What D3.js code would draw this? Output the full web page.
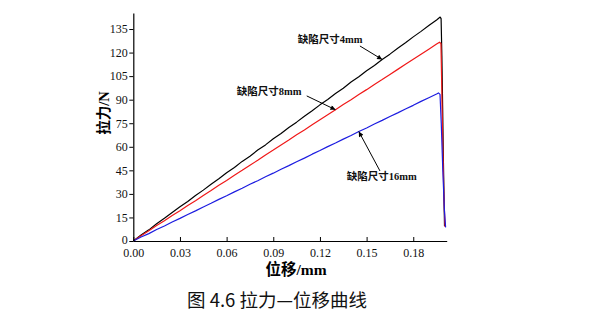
<!DOCTYPE html>
<html>
<head>
<meta charset="utf-8">
<script src="https://cdn.jsdelivr.net/npm/d3@7"></script>
<style>
  html, body { margin: 0; padding: 0; background: #fff; }
  svg { display: block; }
</style>
</head>
<body>
<svg id="chart" width="600" height="330"></svg>
<script>
// Displacement (mm) and load (N) for three defect sizes
const blackX = [0,0.005,0.01,0.015,0.02,0.025,0.03,0.035,0.04,0.045,0.05,0.055,0.06,0.065,0.07,0.075,0.08,0.085,0.09,0.095,0.10,0.105,0.11,0.115,0.12,0.125,0.13,0.135,0.14,0.145,0.15,0.155,0.16,0.165,0.17,0.175,0.18,0.185,0.19,0.195,0.1973,0.1979,0.1984,0.1989,0.1994,0.2001];
const blackY = [0,3.8,7.1,11.0,14.5,18.2,21.8,25.1,29.0,32.4,36.2,39.6,43.4,46.8,50.7,54.0,57.9,61.2,65.1,68.5,72.3,75.7,79.5,83.0,86.7,90.1,93.9,97.3,101.2,104.6,108.4,111.8,115.6,119.0,122.8,126.2,130.0,133.5,137.2,140.8,142.6,141.6,118,85,50,9.5];

const redX = [0,0.005,0.01,0.015,0.02,0.025,0.03,0.035,0.04,0.045,0.05,0.055,0.06,0.065,0.07,0.075,0.08,0.085,0.09,0.095,0.10,0.105,0.11,0.115,0.12,0.125,0.13,0.135,0.14,0.145,0.15,0.155,0.16,0.165,0.17,0.175,0.18,0.185,0.19,0.195,0.1969,0.1978,0.1982,0.1988,0.1996,0.2004];
const redY = [0,3.4,6.5,9.8,12.9,16.2,19.3,22.6,25.7,29.0,32.1,35.5,38.6,41.9,45.0,48.3,51.4,54.8,57.9,61.2,64.3,67.6,70.7,74.0,77.2,80.4,83.6,86.9,90.0,93.3,96.4,99.7,102.8,106.1,109.3,112.5,115.7,118.9,122.1,125.4,126.6,125.8,105,70,32,9];

const blueX = [0,0.005,0.01,0.015,0.02,0.025,0.03,0.035,0.04,0.045,0.05,0.055,0.06,0.065,0.07,0.075,0.08,0.085,0.09,0.095,0.10,0.105,0.11,0.115,0.12,0.125,0.13,0.135,0.14,0.145,0.15,0.155,0.16,0.165,0.17,0.175,0.18,0.185,0.19,0.195,0.1962,0.1972,0.1980,0.1990,0.2000,0.2008];
const blueY = [0,2.5,4.7,7.3,9.6,12.1,14.4,16.9,19.2,21.7,24.0,26.5,28.8,31.3,33.6,36.1,38.4,40.9,43.2,45.7,48.0,50.5,52.8,55.3,57.6,60.1,62.4,64.9,67.2,69.7,72.0,74.5,76.8,79.3,81.6,84.1,86.4,88.9,91.2,93.6,94.3,93.4,75,45,20,8.7];

const seriesNames = ["缺陷尺寸4mm", "缺陷尺寸8mm", "缺陷尺寸16mm"];
const xTicks = [0, 0.03, 0.06, 0.09, 0.12, 0.15, 0.18];
const yTicks = [0, 15, 30, 45, 60, 75, 90, 105, 120, 135];
const xTitle = "位移/mm";
const yTitle = "拉力/N";
const caption = "图 4.6 拉力—位移曲线";

// label anchor (data units), arrow tail (data units), arrow tip = point on curve
const labelX = [0.1058, 0.0665, 0.1372];
const labelY = [126.1, 93.0, 38.9];
const tailX = [0.1457, 0.1115, 0.1586];
const tailY = [124.2, 92.4, 44.6];
const tipAt = [0.16, 0.13, 0.145];

const series = [
  { name: seriesNames[0], xs: blackX, ys: blackY, color: "#000000" },
  { name: seriesNames[1], xs: redX, ys: redY, color: "#f01818" },
  { name: seriesNames[2], xs: blueX, ys: blueY, color: "#1c1ce0" }
];

const svg = d3.select("#chart");
const plotLeft = 133.3, plotRight = 446.7, plotTop = 13, plotBottom = 241;

const x = d3.scaleLinear().domain([0, 0.2015]).range([plotLeft, plotRight]);
const y = d3.scaleLinear().domain([0, 145.2]).range([plotBottom, plotTop]);

const serif = "'Liberation Serif', 'Times New Roman', 'Noto Sans CJK SC', serif";

svg.append("defs").append("marker")
  .attr("id", "arrow")
  .attr("viewBox", "0 0 10 10")
  .attr("refX", 10).attr("refY", 5)
  .attr("markerWidth", 7).attr("markerHeight", 5)
  .attr("markerUnits", "userSpaceOnUse")
  .attr("orient", "auto")
  .append("path").attr("d", "M0,0L10,5L0,10Z").attr("fill", "#000");

// curves
const line = d3.line().x(d => x(d[0])).y(d => y(d[1]));
series.forEach(s => {
  const pts = s.xs.map((v, i) => [v, s.ys[i]]);
  svg.append("path")
    .attr("d", line(pts))
    .attr("fill", "none")
    .attr("stroke", s.color)
    .attr("stroke-width", 1.2)
    .attr("stroke-linejoin", "round");
});

// axes: x ticks point inward, y ticks point outward
const xAxis = d3.axisBottom(x).tickValues(xTicks).tickFormat(d3.format(".2f")).tickSizeInner(-4).tickSizeOuter(0).tickPadding(7.5);
const yAxis = d3.axisLeft(y).tickValues(yTicks).tickFormat(d3.format("d")).tickSizeInner(4).tickSizeOuter(0).tickPadding(1.5);

const gx = svg.append("g").attr("transform", `translate(0,${plotBottom})`).call(xAxis);
const gy = svg.append("g").attr("transform", `translate(${plotLeft},0)`).call(yAxis);
[gx, gy].forEach(g => {
  g.select(".domain").attr("stroke", "#000").attr("stroke-width", 1.2);
  g.selectAll(".tick line").attr("stroke", "#000").attr("stroke-width", 1);
  g.selectAll(".tick text").attr("fill", "#111").style("font-family", serif).style("font-size", "12px");
});
// the origin label of the y axis sits a touch higher so it clears "0.00"
gy.selectAll(".tick text").filter(d => d === 0).attr("dy", "0.2em");

// axis titles
svg.append("text")
  .attr("x", 296).attr("y", 275)
  .attr("text-anchor", "middle")
  .style("font-family", serif).style("font-size", "15.5px").style("font-weight", "bold")
  .text(xTitle);

svg.append("text")
  .attr("transform", "translate(109,113) rotate(-90)")
  .attr("text-anchor", "middle")
  .style("font-family", serif).style("font-size", "14.5px").style("font-weight", "bold")
  .text(yTitle);

// annotations with arrows
series.forEach((s, i) => {
  const k = s.xs.indexOf(tipAt[i]);
  svg.append("line")
    .attr("x1", x(tailX[i])).attr("y1", y(tailY[i]))
    .attr("x2", x(s.xs[k])).attr("y2", y(s.ys[k]))
    .attr("stroke", "#000").attr("stroke-width", 1)
    .attr("marker-end", "url(#arrow)");
  svg.append("text")
    .attr("x", x(labelX[i])).attr("y", y(labelY[i]))
    .style("font-family", serif).style("font-size", "10.5px").style("font-weight", "bold")
    .attr("fill", "#111")
    .text(s.name);
});

// caption
svg.append("text")
  .attr("x", 277).attr("y", 307)
  .attr("text-anchor", "middle")
  .style("font-family", "'Noto Sans CJK SC', sans-serif").style("font-size", "18.5px")
  .attr("fill", "#111")
  .text(caption);
</script>
</body>
</html>
